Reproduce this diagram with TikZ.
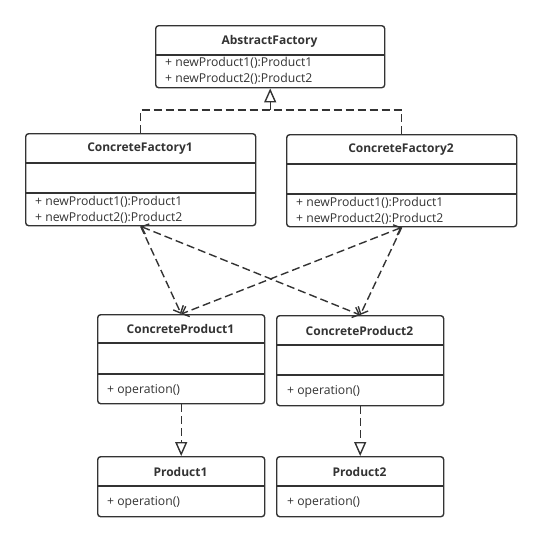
\documentclass[tikz,border=0pt]{standalone}
\usepackage{fontspec}
\setmainfont{Open Sans}
\usetikzlibrary{arrows.meta}
\usetikzlibrary{positioning}
\definecolor{umlgray}{HTML}{333333}
\tikzset{
    classbox/.style={draw=umlgray, line width=1.4pt, rounded corners=3pt, fill=white, inner sep=0pt, anchor=north west},
    title/.style={text=umlgray, font=\bfseries\fontsize{12}{14}\selectfont, inner sep=0pt},
    member/.style={text=umlgray, font=\fontsize{12.2}{14}\selectfont, inner sep=0pt, anchor=west},
    divider/.style={draw=umlgray, line width=1.4pt},
    dashline/.style={draw=umlgray, line width=1.4pt, dash pattern=on 8pt off 4pt},
    realize/.style={dashline, -{Triangle[open, length=14pt, width=12pt]}},
    depend/.style={dashline, -{Straight Barb[length=6pt, width=11pt]}},
    dependboth/.style={dashline, {Straight Barb[length=6pt, width=11pt]}-{Straight Barb[length=6pt, width=11pt]}},
}
\begin{document}
\begin{tikzpicture}[x=1pt, y=-1pt]
\useasboundingbox (0,0) rectangle (541,541);

    \node[classbox, minimum width=229pt, minimum height=62pt] (AF) at (155,25) {};
\node[title] (AFt) at (269.5,41) {AbstractFactory};
\draw[divider] (AF.west |- 0,55) -- (AF.east |- 0,55);
\node[member] (AFm1) at (165,63) {+ newProduct1():Product1};
\node[member] (AFm2) at (165,79) {+ newProduct2():Product2};


    \node[classbox, minimum width=230pt, minimum height=92pt] (CF1) at (25,133) {};
\node[title] (CF1t) at (140,149) {ConcreteFactory1};
\draw[divider] (CF1.west |- 0,163) -- (CF1.east |- 0,163);
\draw[divider] (CF1.west |- 0,193) -- (CF1.east |- 0,193);
\node[member] (CF1m1) at (35,202) {+ newProduct1():Product1};
\node[member] (CF1m2) at (35,218) {+ newProduct2():Product2};


    \node[classbox, minimum width=230pt, minimum height=92pt] (CF2) at (286,134) {};
\node[title] (CF2t) at (401,150) {ConcreteFactory2};
\draw[divider] (CF2.west |- 0,164) -- (CF2.east |- 0,164);
\draw[divider] (CF2.west |- 0,194) -- (CF2.east |- 0,194);
\node[member] (CF2m1) at (296,203) {+ newProduct1():Product1};
\node[member] (CF2m2) at (296,219) {+ newProduct2():Product2};


    \node[classbox, minimum width=167pt, minimum height=89pt] (CP1) at (97,314) {};
\node[title] (CP1t) at (180.5,329) {ConcreteProduct1};
\draw[divider] (CP1.west |- 0,343) -- (CP1.east |- 0,343);
\draw[divider] (CP1.west |- 0,374) -- (CP1.east |- 0,374);
\node[member] (CP1m) at (107,390) {+ operation()};


    \node[classbox, minimum width=167pt, minimum height=90pt] (CP2) at (276,315) {};
\node[title] (CP2t) at (359.5,331) {ConcreteProduct2};
\draw[divider] (CP2.west |- 0,345) -- (CP2.east |- 0,345);
\draw[divider] (CP2.west |- 0,375) -- (CP2.east |- 0,375);
\node[member] (CP2m) at (287,391) {+ operation()};


    \node[classbox, minimum width=167pt, minimum height=60pt] (P1) at (97,456) {};
\node[title] (P1t) at (180.5,472) {Product1};
\draw[divider] (P1.west |- 0,486) -- (P1.east |- 0,486);
\node[member] (P1m) at (107,502) {+ operation()};


    \node[classbox, minimum width=167pt, minimum height=60pt] (P2) at (276,456) {};
\node[title] (P2t) at (359.5,472) {Product2};
\draw[divider] (P2.west |- 0,486) -- (P2.east |- 0,486);
\node[member] (P2m) at (287,502) {+ operation()};


\coordinate (J) at (AF.south |- 0,110);
\draw[dashline] (CF1.north) |- (J) -| (CF2.north);
\draw[realize] (J) -- (AF.south);

\draw[depend] (CF1.south) -- (CP1.north);
\draw[dependboth] (CF1.south) -- (CP2.north);
\draw[dependboth] (CF2.south) -- (CP1.north);
\draw[depend] (CF2.south) -- (CP2.north);

\draw[realize] (CP1.south) -- (P1.north);
\draw[realize] (CP2.south) -- (P2.north);

\end{tikzpicture}
\end{document}
